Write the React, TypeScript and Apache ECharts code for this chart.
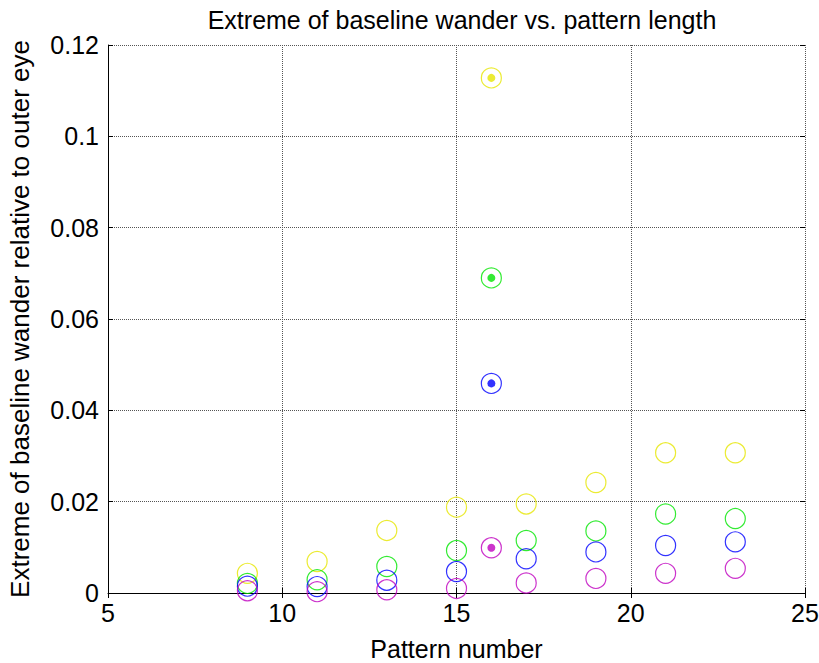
import React, { useEffect, useRef } from "react";
import * as echarts from "echarts";

const patterns = [9, 11, 13, 15, 16, 17, 19, 21, 23];
const yellowVals = [0.0043, 0.0069, 0.0137, 0.0188, 0.1128, 0.0195, 0.0242, 0.0307, 0.0307];
const greenVals = [0.0021, 0.0029, 0.0058, 0.0093, 0.069, 0.0115, 0.0136, 0.0173, 0.0163];
const blueVals = [0.0015, 0.0014, 0.0028, 0.0047, 0.0459, 0.0075, 0.009, 0.0104, 0.0112];
const magentaVals = [0.0005, 0.0003, 0.0007, 0.001, 0.0099, 0.0022, 0.0032, 0.0043, 0.0054];
const highlightPattern = 16;

const colors = ["#e6e600", "#00e600", "#0000ff", "#bf00bf"];
const seriesVals = [yellowVals, greenVals, blueVals, magentaVals];

const FONT = "Liberation Sans, Arial, sans-serif";

export default function App() {
  const ref = useRef<HTMLDivElement>(null);
  useEffect(() => {
    document.body.style.margin = "0";
    const chart = echarts.init(ref.current!, null, { renderer: "svg" });
    const ringSeries = seriesVals.map((vals, i) => ({
      type: "scatter",
      xAxisIndex: 0,
      yAxisIndex: 0,
      symbol: "circle",
      symbolSize: 20,
      itemStyle: { color: "transparent", borderColor: colors[i], borderWidth: 1.2 },
      data: patterns.map((p, j) => [p, vals[j]]),
      z: 3,
    }));
    const dotSeries = seriesVals.map((vals, i) => ({
      type: "scatter",
      xAxisIndex: 0,
      yAxisIndex: 0,
      symbol: "circle",
      symbolSize: 8,
      itemStyle: { color: colors[i] },
      data: patterns
        .map((p, j) => [p, vals[j]])
        .filter((d) => d[0] === highlightPattern),
      z: 4,
    }));
    const gridLine = { show: true, lineStyle: { type: "dotted", color: "#555", width: 1 } };
    chart.setOption({
      animation: false,
      backgroundColor: "#fff",
      textStyle: { fontFamily: FONT },
      title: {
        text: "Extreme of baseline wander vs. pattern length",
        left: 457,
        textAlign: "center",
        top: 2,
        textStyle: { fontFamily: FONT, fontSize: 25, fontWeight: "normal", color: "#000" },
      },
      grid: { left: 108, right: 14, top: 45, bottom: 70, containLabel: false, outerBoundsMode: "none" },
      xAxis: [
        {
          type: "value",
          min: 5,
          max: 25,
          interval: 5,
          name: "Pattern number",
          nameLocation: "middle",
          nameGap: 43,
          nameTextStyle: { fontFamily: FONT, fontSize: 25, lineHeight: 26, color: "#000" },
          axisLine: { show: true, lineStyle: { color: "#000", width: 1 } },
          axisTick: { show: true, inside: true, length: 5, lineStyle: { color: "#000" } },
          axisLabel: { fontFamily: FONT, fontSize: 25, color: "#000", margin: 7 },
          splitLine: gridLine,
        },
        {
          type: "value",
          position: "top",
          min: 5,
          max: 25,
          interval: 5,
          axisLine: { show: false },
          axisTick: { show: true, inside: true, length: 5, lineStyle: { color: "#000" } },
          axisLabel: { show: false },
          splitLine: { show: false },
        },
      ],
      yAxis: [
        {
          type: "value",
          min: 0,
          max: 0.12,
          interval: 0.02,
          name: "Extreme of baseline wander relative to outer eye",
          nameLocation: "middle",
          nameGap: 75,
          nameTextStyle: { fontFamily: FONT, fontSize: 26, color: "#000" },
          axisLine: { show: true, lineStyle: { color: "#000", width: 1 } },
          axisTick: { show: true, inside: true, length: 5, lineStyle: { color: "#000" } },
          axisLabel: { fontFamily: FONT, fontSize: 25, color: "#000", margin: 9 },
          splitLine: gridLine,
        },
        {
          type: "value",
          position: "right",
          min: 0,
          max: 0.12,
          interval: 0.02,
          axisLine: { show: false },
          axisTick: { show: true, inside: true, length: 5, lineStyle: { color: "#000" } },
          axisLabel: { show: false },
          splitLine: { show: false },
        },
      ],
      series: [...ringSeries, ...dotSeries],
    });
    return () => chart.dispose();
  }, []);
  return <div ref={ref} style={{ width: 819, height: 663 }} />;
}
